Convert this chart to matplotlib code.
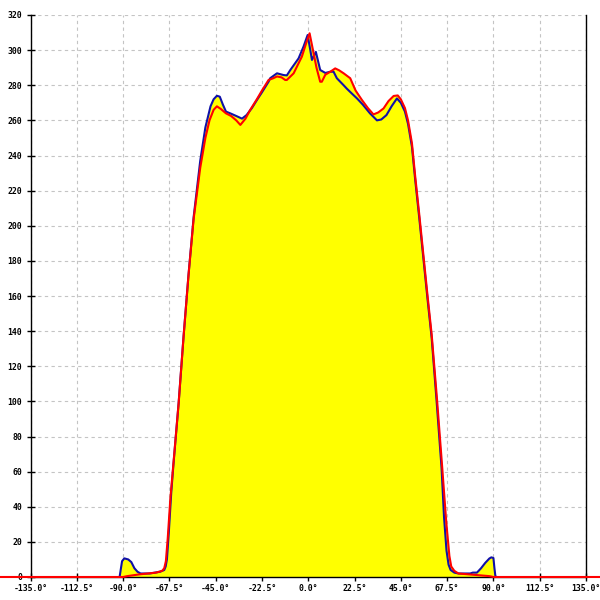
import matplotlib
matplotlib.use("Agg")
import matplotlib.pyplot as plt
import numpy as np

# measured curve (blue) and reference curve (red), angle in degrees
blue_angle = [
    -91.7, -90.5, -89.4, -87.5, -86.0, -84.5, -83.0, -81.5, -77.0, -72.0,
    -70.0, -69.3, -68.7, -67.8, -66.6, -65.6, -63.0, -60.6, -58.2, -55.7,
    -52.5, -50.0, -47.5, -46.0, -44.4, -43.0, -41.5, -40.0, -37.9, -35.0,
    -32.2, -30.0, -27.4, -25.0, -22.5, -19.3, -18.5, -15.2, -12.0, -10.4,
    -8.7, -4.7, -2.3, -0.3, 1.0, 1.8, 3.7, 5.8, 8.3, 10.7,
    12.3, 13.9, 17.2, 18.8, 21.0, 23.7, 26.5, 30.0, 33.4, 35.5,
    38.0, 40.5, 43.1, 45.0, 47.0, 48.5, 50.4, 52.0, 54.0, 56.0,
    58.0, 60.0, 62.4, 64.8, 66.0, 67.2, 68.2, 69.2, 71.0, 73.0,
    78.7, 80.0, 82.0, 84.0, 86.0, 88.0, 89.0, 90.0, 90.5, 90.9, 91.2,
]
blue_value = [
    0, 9, 10.6, 10, 8.5, 5, 3, 2, 2, 3,
    4, 6, 10, 25, 48, 63, 99, 137, 172, 205,
    237, 256, 268, 272, 274, 273.5, 269, 265, 264, 262.5,
    261, 263, 267, 271.5, 276, 282, 284, 286.8, 285.8, 285.6,
    288.7, 295.3, 302, 308.6, 300, 294.4, 299, 288.7, 287, 287.7,
    287.7, 284, 280, 278, 275.5, 272.5, 269, 264, 260, 260.5,
    263, 268, 272.5, 270, 265, 258, 245, 226, 204, 181,
    158, 136, 100, 62, 34, 15, 7, 4, 2.5, 2,
    2, 2.5, 2.5, 5, 8, 10.5, 11.2, 10.8, 5, 1, 0,
]

red_angle = [
    -180.0, -90.0, -88.0, -85.0, -82.0, -78.0, -74.0, -71.0, -70.0, -69.2,
    -68.3, -67.0, -65.8, -63.0, -60.6, -58.2, -55.7, -52.5, -50.0, -48.0,
    -46.0, -44.4, -42.5, -40.0, -37.5, -35.0, -33.0, -30.5, -28.2, -25.0,
    -22.5, -19.3, -17.0, -15.2, -13.0, -11.2, -10.4, -7.1, -3.1, -1.0,
    0.65, 2.3, 4.0, 5.8, 6.6, 8.3, 10.7, 13.1, 15.0, 17.2,
    20.4, 23.0, 26.1, 29.0, 31.7, 34.0, 36.6, 39.0, 41.5, 43.5,
    45.0, 47.0, 48.5, 50.4, 52.0, 54.0, 56.0, 58.0, 60.0, 62.6,
    65.2, 67.1, 68.6, 69.5, 71.0, 73.0, 78.0, 83.0, 88.0, 90.0, 180.0,
]
red_value = [
    0, 0, 0.5, 1, 1.5, 2, 2.5, 3.5, 5, 9,
    22, 45, 61, 99, 137, 172, 204, 233, 250, 260,
    266, 268, 266.5, 264, 262.5, 260, 257.4, 261, 266, 272,
    277, 283, 284, 285, 284.5, 283, 283, 286.8, 296.3, 304,
    309.6, 300, 290, 282, 282, 286, 287.7, 289.6, 288.5, 286.8,
    284, 277, 271.6, 267, 263.4, 264.5, 266.8, 271, 273.9, 274.2,
    272, 267, 260, 247, 228, 206, 183, 160, 138, 101,
    61, 31, 12, 6, 3.5, 2, 1.5, 1, 0.5, 0, 0,
]

x_ticks = np.arange(-135.0, 135.1, 22.5)
y_ticks = np.arange(0, 321, 20)

fig = plt.figure(figsize=(6, 6), dpi=100)
ax = fig.add_axes([30.5 / 600, 23 / 600, 555.5 / 600, 562 / 600])

ax.fill_between(blue_angle, blue_value, 0, color="#ffff00", linewidth=0, zorder=1)
ax.fill_between(red_angle, red_value, 0, color="#ffff00", linewidth=0, zorder=1)
ax.plot(blue_angle, blue_value, color="#1010a8", linewidth=1.5, zorder=3)
ax.plot(red_angle, red_value, color="#ff0000", linewidth=1.5, zorder=4, clip_on=False)

ax.set_xlim(-135, 135)
ax.set_ylim(0, 320)
ax.set_xticks(x_ticks)
ax.set_yticks(y_ticks)
ax.set_xticklabels(["%.1f\u00b0" % v for v in x_ticks])
ax.set_yticklabels(["%d" % v for v in y_ticks])

ax.grid(True, color="#c4c4c4", linestyle=(0, (3, 3)), linewidth=0.8, zorder=0)
ax.set_axisbelow(True)

ax.spines["top"].set_visible(False)
for side in ("left", "right", "bottom"):
    ax.spines[side].set_color("black")
    ax.spines[side].set_linewidth(1.0)

ax.tick_params(axis="both", direction="inout", length=6, width=1.0, colors="black")
ax.tick_params(axis="y", pad=3)
ax.tick_params(axis="x", pad=2)
for label in ax.get_xticklabels() + ax.get_yticklabels():
    label.set_fontfamily("DejaVu Sans Mono")
    label.set_fontsize(5.9)
    label.set_fontweight("bold")

fig.savefig("out.png", dpi=100)
